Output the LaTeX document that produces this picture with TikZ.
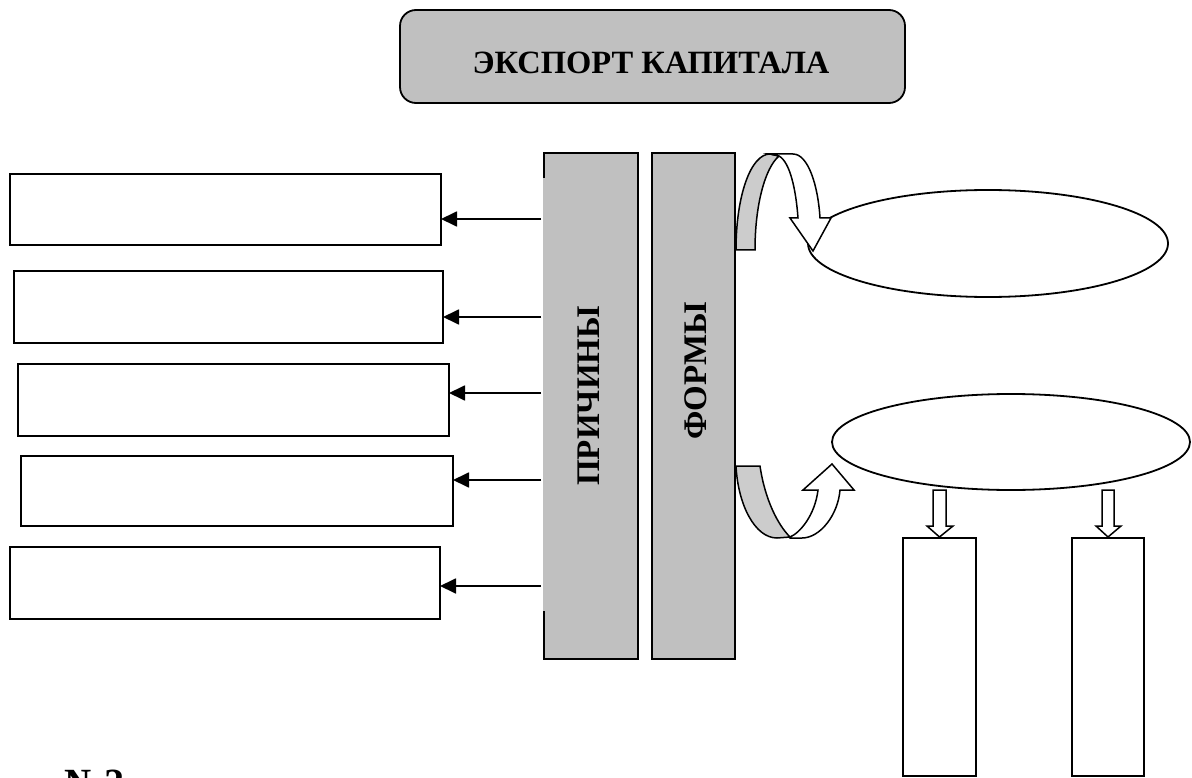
\documentclass[tikz,border=0pt]{standalone}
\usepackage{fontspec}
\setmainfont{Liberation Serif}
\usetikzlibrary{arrows.meta}
\definecolor{colgray}{HTML}{C0C0C0}
\definecolor{bandgray}{HTML}{CCCCCC}
\begin{document}
\begin{tikzpicture}[x=1pt,y=-1pt,
  outline/.style={draw=black,line width=1.8pt},
  leftbox/.style={outline,fill=white},
  conn/.style={line width=1.8pt,-{Triangle[length=16pt,width=15pt]}},
  blockarrow/.style={draw=black,line width=1.5pt,fill=white,line join=miter},
  band/.style={draw=black,line width=1.5pt,fill=bandgray},
  lbl/.style={inner sep=0pt}]
\useasboundingbox (0,0) rectangle (1192,778);
% title
\draw[outline,fill=colgray,rounded corners=16pt] (400,10) rectangle (905,103);
\node[lbl,font=\fontsize{32.5}{32.5}\selectfont\bfseries] (title) at (651,63) {ЭКСПОРТ КАПИТАЛА};
% left boxes
\draw[leftbox] (10,174) rectangle (441,245);
\draw[leftbox] (14,271) rectangle (443,343);
\draw[leftbox] (18,364) rectangle (449,436);
\draw[leftbox] (21,456) rectangle (453,526);
\draw[leftbox] (10,547) rectangle (440,619);
\coordinate (e1) at (441,219);
\coordinate (e2) at (443,317);
\coordinate (e3) at (449,393);
\coordinate (e4) at (453,480);
\coordinate (e5) at (440,586);
% columns
\fill[colgray] (543,153) rectangle (638,659);
\draw[outline] (544,178) -- (544,153) -- (638,153) -- (638,659) -- (544,659) -- (544,611);
\node[lbl,rotate=90,font=\fontsize{33}{33}\selectfont\bfseries] (prich) at (589,396) {ПРИЧИНЫ};
\draw[outline,fill=colgray] (652,153) rectangle (735,659);
\node[lbl,rotate=90,font=\fontsize{33}{33}\selectfont\bfseries] (form) at (696,371) {ФОРМЫ};
% connectors
\foreach \i/\y in {1/219,2/317,3/393,4/480,5/586}{
  \coordinate (s\i) at (541,\y);
  \draw[conn] (s\i) -- (e\i);
}
% ellipses
\draw[outline] (988,243.5) ellipse [x radius=180,y radius=53.5];
\node (el1) at (988,243.5) {};
\draw[outline] (1011,442) ellipse [x radius=179,y radius=48];
\node (el2) at (1011,442) {};
% top curved arrow
\draw[band] (736,250) .. controls (736,195) and (751,154) .. (770,154) -- (779,156)
  .. controls (765,168) and (755,205) .. (755,250) -- cycle;
\draw[blockarrow] (770,154) -- (793,154) .. controls (808,154) and (818,185) .. (820,218)
  -- (831,218) -- (813,251) -- (790,218) -- (798,218)
  .. controls (796,190) and (790,162) .. (779,156) -- cycle;
% bottom curved arrow
\draw[band] (736,466) -- (760,466) .. controls (765,500) and (778,525) .. (790,537)
  -- (777,538) .. controls (755,538) and (738,505) .. (736,466) -- cycle;
\draw[blockarrow] (790,538) -- (802,538) .. controls (820,538) and (838,515) .. (840,490)
  -- (854,490) -- (832,464) -- (803,490) -- (818,490)
  .. controls (815,515) and (800,533) .. (790,537) -- cycle;
% small down arrows
\draw[blockarrow] (933,490) -- (946,490) -- (946,526) -- (953,526) -- (939.5,537)
  -- (927,526) -- (933,526) -- cycle;
\draw[blockarrow] (1102,490) -- (1114,490) -- (1114,526) -- (1121,526) -- (1108,537)
  -- (1096,526) -- (1102,526) -- cycle;
% bottom rectangles
\draw[outline] (903,538) rectangle (976,776);
\draw[outline] (1072,538) rectangle (1144,776);
% cut-off label
\node[anchor=north west,inner sep=0pt,font=\fontsize{40}{40}\selectfont\bfseries] (num) at (64,770) {№2};
\end{tikzpicture}
\end{document}
